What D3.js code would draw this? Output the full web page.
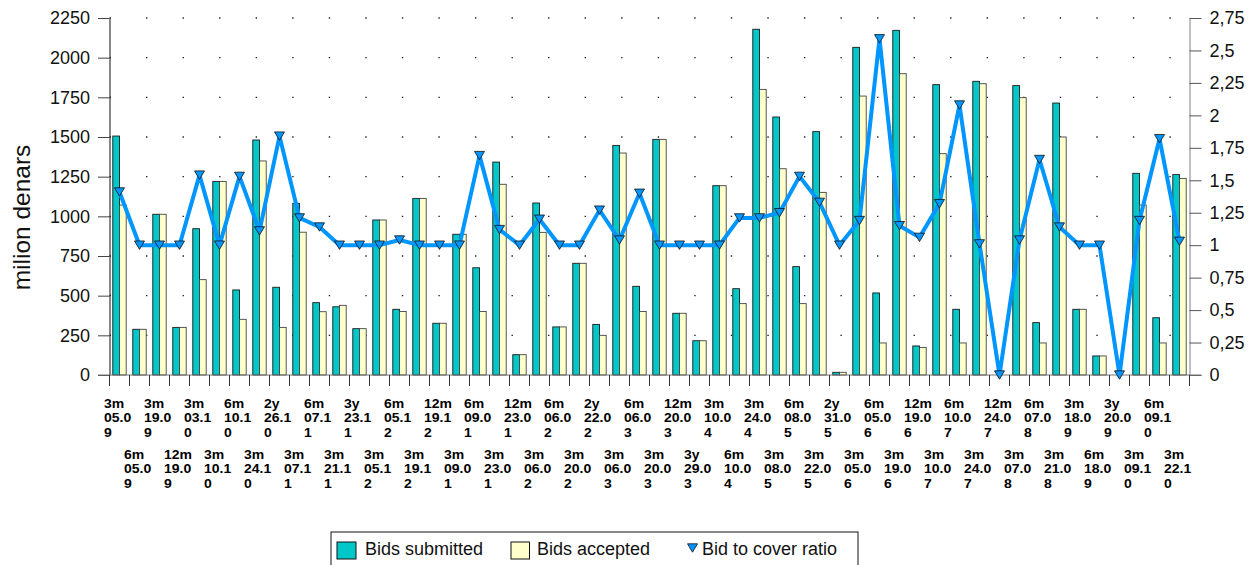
<!DOCTYPE html>
<html><head><meta charset="utf-8">
<script src="https://cdn.jsdelivr.net/npm/d3@7"></script>
<style>
body{margin:0;background:#fff;}
svg{display:block;font-family:"Liberation Sans",Arial,sans-serif;}
</style>
</head><body>
<svg id="c" width="1257" height="565"></svg>
<script>
const categories = ["3m 05.09","6m 05.09","3m 19.09","12m 19.09","3m 03.10","3m 10.10","6m 10.10","3m 24.10","2y 26.10","3m 07.11",
"6m 07.11","3m 21.11","3y 23.11","3m 05.12","6m 05.12","3m 19.12","12m 19.12","3m 09.01","6m 09.01","3m 23.01",
"12m 23.01","3m 06.02","6m 06.02","3m 20.02","2y 22.02","3m 06.03","6m 06.03","3m 20.03","12m 20.03","3y 29.03",
"3m 10.04","6m 10.04","3m 24.04","3m 08.05","6m 08.05","3m 22.05","2y 31.05","3m 05.06","6m 05.06","3m 19.06",
"12m 19.06","3m 10.07","6m 10.07","3m 24.07","12m 24.07","3m 07.08","6m 07.08","3m 21.08","3m 18.09","6m 18.09",
"3y 20.09","3m 09.10","6m 09.10","3m 22.10"];
const bidsSubmitted = [1506,288,1013,300,922,1220,536,1481,553,1082,456,430,292,977,414,1113,326,887,676,1342,
128,1084,303,704,319,1447,559,1485,389,216,1193,544,2179,1626,683,1534,17,2065,517,2172,
183,1830,414,1851,0,1824,330,1714,414,120,0,1271,361,1263];
const bidsAccepted = [1071,288,1013,300,601,1220,351,1349,300,900,399,439,292,977,400,1113,326,887,400,1202,
128,899,303,704,250,1399,400,1485,389,216,1193,450,1800,1300,450,1151,17,1758,202,1899,
174,1395,202,1836,0,1748,202,1500,414,120,0,1071,202,1239];
const bidToCover = [1.41,1.0,1.0,1.0,1.54,1.0,1.53,1.11,1.84,1.21,1.14,1.0,1.0,1.0,1.04,1.0,1.0,1.0,1.69,1.12,
1.0,1.2,1.0,1.0,1.27,1.04,1.40,1.0,1.0,1.0,1.0,1.21,1.21,1.25,1.53,1.33,1.0,1.19,2.59,1.15,
1.06,1.32,2.08,1.01,0,1.04,1.66,1.14,1.0,1.0,0,1.19,1.82,1.03];
const leftTicks = [0,250,500,750,1000,1250,1500,1750,2000,2250];
const rightTicks = [0,0.25,0.5,0.75,1,1.25,1.5,1.75,2,2.25,2.5,2.75];
const seriesNames = ["Bids submitted","Bids accepted","Bid to cover ratio"];
const yAxisTitle = "milion denars";

const C_SUB = "#00C8C8", C_ACC = "#FFFFCC", C_LINE = "#0096FF";

const svg = d3.select("#c");
const L = 109.5, R = 1189.5, T = 18, B = 375;
const idx = d3.range(categories.length);
const x = d3.scaleBand().domain(idx).range([L, R]).paddingInner(0).paddingOuter(0);
const xs = d3.scaleBand().domain([0,1]).range([0, x.bandwidth()]).paddingInner(0).paddingOuter(0.49);
const y = d3.scaleLinear().domain([0, 2250]).range([B, T]);
const y2 = d3.scaleLinear().domain([0, 2.75]).range([B, T]);
const cx = i => x(i) + x.bandwidth()/2;

// dotted grid
svg.append("g").selectAll("line").data(leftTicks.filter(d => d > 0)).join("line")
  .attr("x1", L).attr("x2", R).attr("y1", d => y(d)).attr("y2", d => y(d))
  .attr("stroke", "#222").attr("stroke-width", 1.3)
  .attr("stroke-dasharray", "1.4,35.15").attr("stroke-dashoffset", -36.5);

// bars
const gb = svg.append("g");
gb.selectAll("rect.s").data(idx.filter(i => bidsSubmitted[i] > 0)).join("rect").attr("class","s")
  .attr("x", i => x(i) + xs(0)).attr("width", xs.bandwidth())
  .attr("y", i => y(bidsSubmitted[i])).attr("height", i => y(0) - y(bidsSubmitted[i]))
  .attr("fill", C_SUB).attr("stroke", "#1a1a1a").attr("stroke-width", 0.9);
gb.selectAll("rect.a").data(idx.filter(i => bidsAccepted[i] > 0)).join("rect").attr("class","a")
  .attr("x", i => x(i) + xs(1)).attr("width", xs.bandwidth())
  .attr("y", i => y(bidsAccepted[i])).attr("height", i => y(0) - y(bidsAccepted[i]))
  .attr("fill", C_ACC).attr("stroke", "#444").attr("stroke-width", 0.9);

// left axis
const ax = svg.append("g").attr("transform", `translate(${L},0)`)
  .call(d3.axisLeft(y).tickValues(leftTicks).tickSize(11.5).tickPadding(8).tickSizeOuter(0)
    .tickFormat(d => String(d)));
ax.select(".domain").attr("stroke", "#111");
ax.selectAll(".tick line").attr("stroke", "#444");
ax.selectAll("text").attr("font-size", 18).attr("fill", "#111").attr("font-family", "Liberation Sans, Arial");

// right axis
const ar = svg.append("g").attr("transform", `translate(${R},0)`)
  .call(d3.axisRight(y2).tickValues(rightTicks).tickSize(12).tickPadding(8).tickSizeOuter(0)
    .tickFormat(d => String(d).replace(".", ",")));
ar.select(".domain").attr("stroke", "#808080");
ar.selectAll(".tick line").attr("stroke", "#555");
ar.selectAll("text").attr("font-size", 18).attr("fill", "#111").attr("font-family", "Liberation Sans, Arial");

// bottom axis
svg.append("line").attr("x1", L - 11.5).attr("x2", R + 12).attr("y1", B).attr("y2", B)
  .attr("stroke", "#777").attr("stroke-width", 1);
svg.append("g").selectAll("line").data(idx.concat([categories.length])).join("line")
  .attr("x1", i => i < categories.length ? x(i) : R).attr("x2", i => i < categories.length ? x(i) : R)
  .attr("y1", B).attr("y2", B + 11).attr("stroke", "#333");

// x labels
const lbl = svg.append("g").attr("font-size", 12.5).attr("font-weight", "bold").attr("fill", "#000");
idx.forEach(i => {
  const parts = categories[i].split(" ");
  const date = parts[1];
  const lines = [parts[0], date.slice(0, 4), date.slice(4)];
  const base = i % 2 === 0 ? 407.5 : 458.5;
  const t = lbl.append("text")
    .attr("transform", `translate(${cx(i) - 15.5},${base}) scale(1.12,1)`);
  lines.forEach((s, k) => t.append("tspan").attr("x", 0).attr("y", k * 15).text(s));
});

// y title
svg.append("text").attr("transform", "translate(29.5,217.5) rotate(-90)")
  .attr("text-anchor", "middle").attr("font-size", 24.5).attr("fill", "#111").text(yAxisTitle);

// ratio line
const tri = { draw(ctx, s) { const w = 5, h = 4.2; ctx.moveTo(-w, -h); ctx.lineTo(w, -h); ctx.lineTo(0, h); ctx.closePath(); } };
svg.append("path").datum(idx)
  .attr("d", d3.line().x(cx).y(i => y2(bidToCover[i])))
  .attr("fill", "none").attr("stroke", C_LINE).attr("stroke-width", 4).attr("stroke-linejoin", "round");
svg.append("g").selectAll("path").data(idx).join("path")
  .attr("transform", i => `translate(${cx(i)},${y2(bidToCover[i])})`)
  .attr("d", d3.symbol().type(tri)())
  .attr("fill", C_LINE).attr("stroke", "#111").attr("stroke-width", 0.8);

// legend
const lg = svg.append("g");
lg.append("rect").attr("x", 331).attr("y", 532).attr("width", 527).attr("height", 40)
  .attr("fill", "#fff").attr("stroke", "#111");
lg.append("rect").attr("x", 337).attr("y", 542).attr("width", 19).attr("height", 17)
  .attr("fill", C_SUB).attr("stroke", "#111");
lg.append("text").attr("x", 365).attr("y", 554.5).attr("font-size", 18).attr("fill", "#111").text(seriesNames[0]);
lg.append("rect").attr("x", 511).attr("y", 542).attr("width", 18.5).attr("height", 17)
  .attr("fill", C_ACC).attr("stroke", "#111");
lg.append("text").attr("x", 537).attr("y", 554.5).attr("font-size", 18).attr("fill", "#111").text(seriesNames[1]);
lg.append("path").attr("transform", "translate(692.5,548)").attr("d", d3.symbol().type(tri)())
  .attr("fill", C_LINE).attr("stroke", "#111").attr("stroke-width", 0.8);
lg.append("text").attr("x", 702).attr("y", 554.5).attr("font-size", 18).attr("fill", "#111").text(seriesNames[2]);
</script>
</body></html>
